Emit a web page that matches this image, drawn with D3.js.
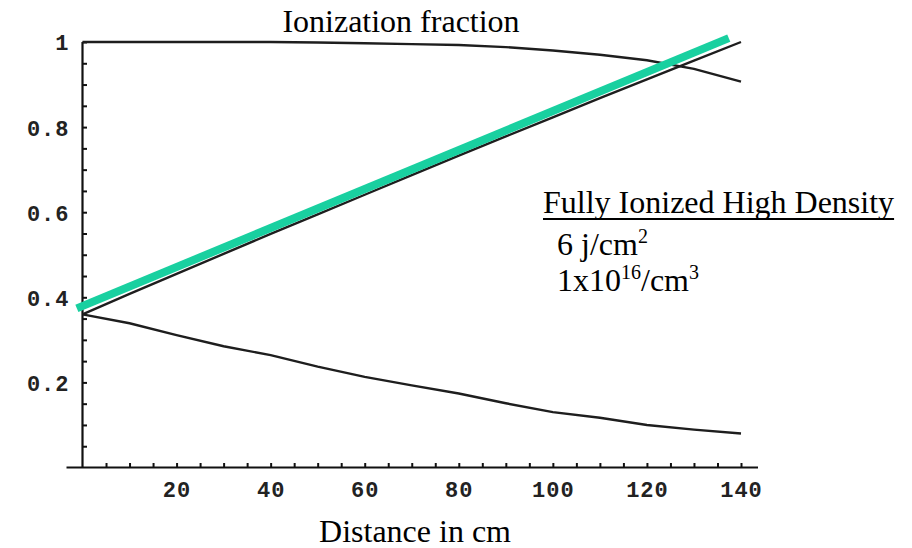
<!DOCTYPE html>
<html>
<head>
<meta charset="utf-8">
<script src="https://cdn.jsdelivr.net/npm/d3@7"></script>
<style>
  html, body { margin: 0; padding: 0; background: #fff; }
  svg { display: block; }
  .tick text { font-family: "Liberation Mono", "DejaVu Sans Mono", monospace; font-weight: bold; font-size: 22px; letter-spacing: 1px; fill: #222; }
  .serif { font-family: "Liberation Serif", "Times New Roman", serif; fill: #000; }
</style>
</head>
<body>
<svg id="chart" width="912" height="548"></svg>
<script>
// ---- data ----
const distance = [0, 10, 20, 30, 40, 50, 60, 70, 80, 90, 100, 110, 120, 130, 140];
const upperFraction = [1.0, 1.0, 1.0, 1.0, 1.0, 0.999, 0.997, 0.995, 0.993, 0.988, 0.980, 0.970, 0.957, 0.937, 0.907];
const middleFraction = [0.36, 0.408, 0.455, 0.502, 0.549, 0.595, 0.641, 0.687, 0.733, 0.778, 0.823, 0.868, 0.912, 0.956, 1.0];
const lowerFraction = [0.36, 0.339, 0.311, 0.285, 0.264, 0.237, 0.213, 0.193, 0.174, 0.151, 0.130, 0.117, 0.100, 0.089, 0.080];
const fitX = [-1.2, 137.4];
const fitY = [0.374, 1.009];
const xTickLabels = [20, 40, 60, 80, 100, 120, 140];
const yTickLabels = [0.2, 0.4, 0.6, 0.8, 1];
const titleText = "Ionization fraction";
const xLabelText = "Distance in cm";

const svg = d3.select("#chart");
const x = d3.scaleLinear().domain([0, 140]).range([82.5, 741]);
const y = d3.scaleLinear().domain([0, 1]).range([467.5, 42]);

// x axis
const xMinor = d3.range(5, 141, 5);
const gx = svg.append("g").attr("transform", `translate(0,${y(0)})`);
gx.call(d3.axisBottom(x).tickValues(xMinor).tickFormat("").tickSizeInner(-4.5).tickSizeOuter(0))
  .call(g => g.select(".domain").remove());
gx.selectAll(".tick line").attr("stroke", "#111").attr("stroke-width", 2);
gx.append("line").attr("x1", x(0) - 16).attr("x2", x(140) + 17).attr("stroke", "#111").attr("stroke-width", 2.2);
const gxl = svg.append("g").attr("transform", `translate(0,${y(0)})`);
gxl.call(d3.axisBottom(x).tickValues(xTickLabels).tickFormat(d3.format("d")).tickSize(0).tickPadding(29))
  .call(g => g.select(".domain").remove());
gxl.selectAll(".tick text").attr("dy", 0);

// y axis
const yMinor = d3.range(1, 21).map(i => i * 0.05);
const gy = svg.append("g").attr("transform", `translate(${x(0)},0)`);
gy.call(d3.axisLeft(y).tickValues(yMinor).tickFormat("").tickSizeInner(-4.5).tickSizeOuter(0))
  .call(g => g.select(".domain").remove());
gy.selectAll(".tick line").attr("stroke", "#111").attr("stroke-width", 2);
gy.append("line").attr("y1", y(0)).attr("y2", y(1)).attr("stroke", "#111").attr("stroke-width", 2.2);
const gyl = svg.append("g").attr("transform", `translate(${x(0)},0)`);
gyl.call(d3.axisLeft(y).tickValues(yTickLabels).tickFormat(d => d === 1 ? "1" : d3.format(".1f")(d)).tickSize(0).tickPadding(13))
  .call(g => g.select(".domain").remove());
gyl.selectAll(".tick text").attr("dy", "0.36em");

// data lines
const line = d3.line().x((d, i) => x(distance[i])).y(d => y(d));
[upperFraction, middleFraction, lowerFraction].forEach(series => {
  svg.append("path").datum(series).attr("d", line)
    .attr("fill", "none").attr("stroke", "#1e1e1e").attr("stroke-width", 2.4);
});

// teal fit line
svg.append("path").datum(fitY)
  .attr("d", d3.line().x((d, i) => x(fitX[i])).y(d => y(d)))
  .attr("fill", "none").attr("stroke", "#19d0a0").attr("stroke-width", 8).attr("stroke-linecap", "butt");

// title & axis label
svg.append("text").attr("class", "serif").attr("x", 401).attr("y", 32)
  .attr("text-anchor", "middle").attr("font-size", 32).text(titleText);
svg.append("text").attr("class", "serif").attr("x", 415).attr("y", 542)
  .attr("text-anchor", "middle").attr("font-size", 32).text(xLabelText);

// annotation
const ann = svg.append("g").attr("class", "serif");
const t1 = ann.append("text").attr("class", "serif").attr("x", 543).attr("y", 213).attr("font-size", 32).text("Fully Ionized High Density");
const bb = t1.node().getBBox();
ann.append("line").attr("x1", bb.x).attr("x2", bb.x + bb.width).attr("y1", 219).attr("y2", 219)
  .attr("stroke", "#000").attr("stroke-width", 2);
const t2 = ann.append("text").attr("class", "serif").attr("x", 557).attr("y", 255).attr("font-size", 32);
t2.append("tspan").text("6 j/cm");
t2.append("tspan").attr("font-size", 20).attr("dy", -12).text("2");
const t3 = ann.append("text").attr("class", "serif").attr("x", 557).attr("y", 291).attr("font-size", 32);
t3.append("tspan").text("1x10");
t3.append("tspan").attr("font-size", 20).attr("dy", -12).text("16");
t3.append("tspan").attr("dy", 12).text("/cm");
t3.append("tspan").attr("font-size", 20).attr("dy", -12).text("3");
</script>
</body>
</html>
